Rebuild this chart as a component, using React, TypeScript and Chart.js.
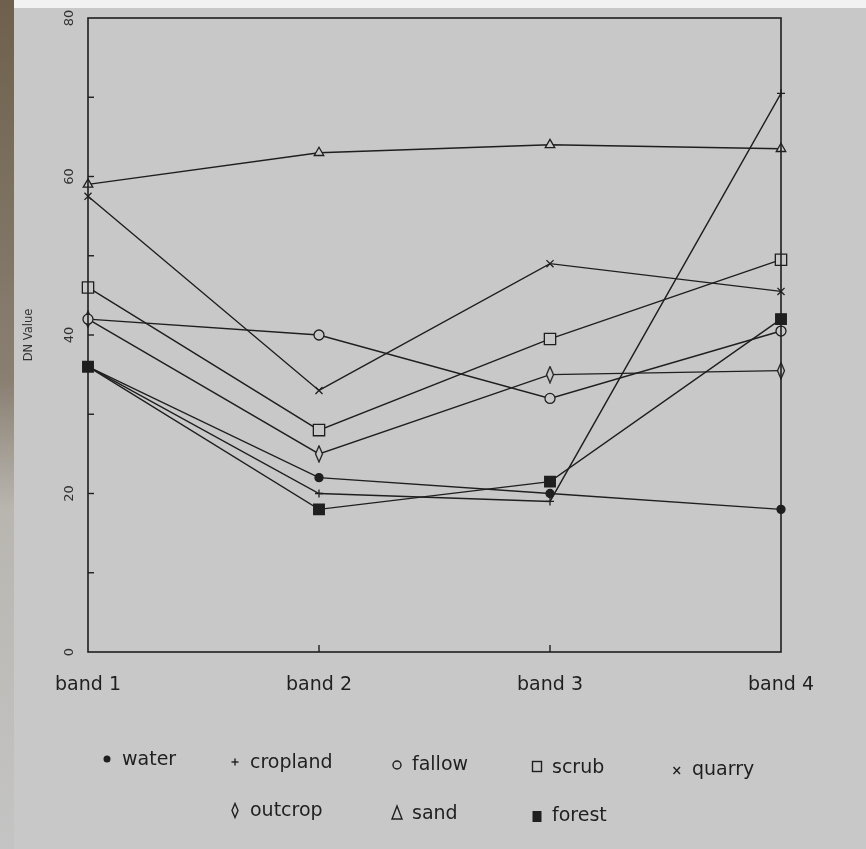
import React, { useEffect, useRef } from 'react';
import { Chart, registerables } from 'chart.js';

Chart.register(...registerables);

// ---- data ----
const bands = ['band 1', 'band 2', 'band 3', 'band 4'];
const water = [36, 22, 20, 18];
const cropland = [36, 20, 19, 70.5];
const fallow = [42, 40, 32, 40.5];
const scrub = [46, 28, 39.5, 49.5];
const quarry = [57.5, 33, 49, 45.5];
const outcrop = [42, 25, 35, 35.5];
const sand = [59, 63, 64, 63.5];
const forest = [36, 18, 21.5, 42];
const yLabelValues = [0, 20, 40, 60, 80];
const yAxisTitle = 'DN Value';
const legendRow1 = ['water', 'cropland', 'fallow', 'scrub', 'quarry'];
const legendRow2 = ['outcrop', 'sand', 'forest'];

// ---- styling ----
const INK = '#1f1f1f';
const PAPER = '#c8c8c8';
const FONT = "'DejaVu Sans', 'Liberation Sans', sans-serif";

function makeDiamond(): HTMLCanvasElement {
  const c = document.createElement('canvas');
  c.width = 10;
  c.height = 18;
  const g = c.getContext('2d')!;
  g.beginPath();
  g.moveTo(5, 1);
  g.lineTo(8.5, 9);
  g.lineTo(5, 17);
  g.lineTo(1.5, 9);
  g.closePath();
  g.fillStyle = PAPER;
  g.fill();
  g.lineWidth = 1.3;
  g.strokeStyle = INK;
  g.stroke();
  return c;
}

const framePlugin = {
  id: 'frameTicks',
  afterDatasetsDraw(chart: any) {
    const { ctx, chartArea: a, scales } = chart;
    const y = scales.y;
    const x = scales.x;
    ctx.save();
    ctx.strokeStyle = INK;
    ctx.lineWidth = 1.6;
    ctx.strokeRect(a.left, a.top, a.right - a.left, a.bottom - a.top);
    ctx.lineWidth = 1.4;
    for (let v = 10; v < 80; v += 10) {
      const py = y.getPixelForValue(v);
      ctx.beginPath();
      ctx.moveTo(a.left, py);
      ctx.lineTo(a.left + 6, py);
      ctx.stroke();
    }
    for (let i = 1; i < bands.length - 1; i++) {
      const px = x.getPixelForValue(i);
      ctx.beginPath();
      ctx.moveTo(px, a.bottom);
      ctx.lineTo(px, a.bottom - 7);
      ctx.stroke();
    }
    ctx.restore();
  },
};

function LegendMarker({ name }: { name: string }) {
  const s = { stroke: INK, strokeWidth: 1.4 } as any;
  let shape: any = null;
  if (name === 'water') shape = <circle cx="7" cy="8" r="3.5" fill={INK} />;
  if (name === 'cropland')
    shape = (
      <g {...s}>
        <line x1="3.5" y1="9" x2="10.5" y2="9" />
        <line x1="7" y1="5.5" x2="7" y2="12.5" />
      </g>
    );
  if (name === 'fallow') shape = <circle cx="7" cy="9" r="4" fill="none" {...s} />;
  if (name === 'scrub') shape = <rect x="2.5" y="3.5" width="9" height="10" fill="none" {...s} />;
  if (name === 'quarry')
    shape = (
      <g {...s}>
        <line x1="3.5" y1="6" x2="10" y2="13" />
        <line x1="10" y1="6" x2="3.5" y2="13" />
      </g>
    );
  if (name === 'outcrop') shape = <polygon points="7,1.5 10,8.5 7,15.5 4,8.5" fill="none" {...s} />;
  if (name === 'sand') shape = <polygon points="7,2 12,15 2,15" fill="none" {...s} />;
  if (name === 'forest') shape = <rect x="2.5" y="4" width="9" height="11" fill={INK} />;
  return (
    <svg width="14" height="18" style={{ display: 'inline-block', verticalAlign: 'middle', marginRight: 8 }}>
      {shape}
    </svg>
  );
}

export default function App() {
  const ref = useRef<HTMLCanvasElement | null>(null);

  useEffect(() => {
    document.body.style.margin = '0';
    document.body.style.background = PAPER;
    const diamond = makeDiamond();
    const base = {
      borderColor: INK,
      borderWidth: 1.4,
      pointBorderColor: INK,
      pointBorderWidth: 1.3,
      pointBackgroundColor: PAPER,
      pointRadius: 4.5,
      tension: 0,
      fill: false,
    };
    const datasets = [
      { ...base, label: 'water', data: water, pointStyle: 'circle', pointBackgroundColor: INK, pointRadius: 4 },
      { ...base, label: 'cropland', data: cropland, pointStyle: 'cross', pointRadius: 4 },
      { ...base, label: 'fallow', data: fallow, pointStyle: 'circle', pointRadius: 5 },
      { ...base, label: 'scrub', data: scrub, pointStyle: 'rect', pointRadius: 8 },
      { ...base, label: 'quarry', data: quarry, pointStyle: 'crossRot', pointRadius: 5 },
      { ...base, label: 'outcrop', data: outcrop, pointStyle: diamond as any },
      { ...base, label: 'sand', data: sand, pointStyle: 'triangle', pointRadius: 5.5 },
      { ...base, label: 'forest', data: forest, pointStyle: 'rect', pointBackgroundColor: INK, pointRadius: 7.5 },
    ];
    const chart = new Chart(ref.current!, {
      type: 'line',
      data: { labels: bands, datasets },
      plugins: [framePlugin],
      options: {
        animation: false,
        responsive: false,
        maintainAspectRatio: false,
        layout: { padding: { top: 18, right: 85, left: 0, bottom: 0 } },
        plugins: { legend: { display: false }, tooltip: { enabled: false } },
        scales: {
          x: {
            type: 'category',
            offset: false,
            grid: { display: false, drawTicks: false },
            border: { display: false },
            ticks: {
              color: INK,
              padding: 22,
              maxRotation: 0,
              minRotation: 0,
              autoSkip: false,
              font: { family: FONT, size: 19 },
            },
            afterFit: (s: any) => {
              s.height = 197;
            },
          },
          y: {
            min: 0,
            max: 80,
            grid: { display: false, drawTicks: false },
            border: { display: false },
            ticks: {
              stepSize: 10,
              color: '#333',
              padding: 10,
              minRotation: 90,
              maxRotation: 90,
              crossAlign: 'center',
              font: { family: FONT, size: 13 },
              callback: (v: any) => (yLabelValues.includes(Number(v)) ? String(v) : ''),
            },
            title: {
              display: true,
              text: yAxisTitle,
              color: '#333',
              padding: { top: 22, bottom: 0 },
              font: { family: FONT, size: 11.5 },
            },
            afterFit: (s: any) => {
              s.width = 88;
            },
          },
        },
      },
    } as any);
    return () => chart.destroy();
  }, []);

  const col = [100, 228, 390, 530, 670];
  const itemStyle = (left: number, top: number): React.CSSProperties => ({
    position: 'absolute',
    left,
    top,
    fontFamily: FONT,
    fontSize: 19,
    color: INK,
    whiteSpace: 'nowrap',
    lineHeight: '22px',
  });

  return (
    <div style={{ position: 'relative', width: 866, height: 849, background: PAPER, overflow: 'hidden' }}>
      <div style={{ position: 'absolute', left: 0, top: 0, width: 14, height: 849, background: 'linear-gradient(to bottom, #6e604c 0%, #8a8072 45%, #b9b6b0 60%, #c4c4c4 100%)' }} />
      <div style={{ position: 'absolute', left: 14, top: 0, width: 852, height: 8, background: '#f2f2f2' }} />
      <canvas ref={ref} width={866} height={849} style={{ position: 'absolute', left: 0, top: 0 }} />
      {legendRow1.map((name, i) => (
        <div key={name} style={itemStyle(col[i], 747 + i * 2.5)}>
          <LegendMarker name={name} />
          {name}
        </div>
      ))}
      {legendRow2.map((name, i) => (
        <div key={name} style={itemStyle(col[i + 1], 798 + i * 2.5)}>
          <LegendMarker name={name} />
          {name}
        </div>
      ))}
    </div>
  );
}
